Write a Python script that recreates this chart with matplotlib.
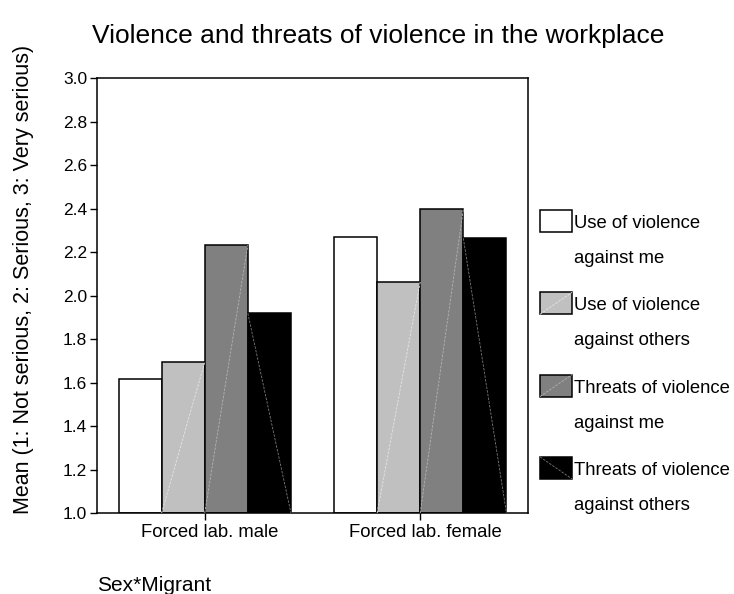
import numpy as np
import matplotlib
matplotlib.use("Agg")
import matplotlib.pyplot as plt
import matplotlib.transforms as mtransforms
from matplotlib.patches import Rectangle
from matplotlib.lines import Line2D

plt.rcParams['font.family'] = ['Liberation Sans', 'DejaVu Sans']

# Data
groups = ["Forced lab. male", "Forced lab. female"]
series = ["Use of violence\nagainst me", "Use of violence\nagainst others",
          "Threats of violence\nagainst me", "Threats of violence\nagainst others"]
violence_me = [1.615, 2.268]
violence_others = [1.694, 2.064]
threats_me = [2.232, 2.398]
threats_others = [1.918, 2.263]
values = [violence_me, violence_others, threats_me, threats_others]

colors = ["#ffffff", "#c0c0c0", "#808080", "#000000"]
diag_colors = [None, "#e6e6e6", "#b4b4b4", "#7a7a7a"]
# +1: rising diagonal, -1: falling diagonal
diag_dir = [0, 1, 1, -1]

W, H = 734, 594
fig = plt.figure(figsize=(W / 100, H / 100), dpi=100)
ax = fig.add_axes([97 / W, 1 - 513 / H, (528 - 97) / W, (513 - 78) / H])

x = np.arange(len(groups))
width = 0.2
ymin = 1.0
for i, vals in enumerate(values):
    xs = x + (i - 1.5) * width
    ax.bar(xs, np.array(vals) - ymin, width, bottom=ymin, color=colors[i],
           edgecolor="black", linewidth=1.1, zorder=2)
    if diag_dir[i] != 0:
        for xc, v in zip(xs, vals):
            xl, xr = xc - width / 2, xc + width / 2
            ys = [ymin, v] if diag_dir[i] > 0 else [v, ymin]
            ax.plot([xl, xr], ys, color=diag_colors[i], lw=0.6,
                    linestyle=(0, (3, 1.5)), zorder=3)

ax.set_xlim(-0.5, 1.5)
ax.set_ylim(1.0, 3.0)
ax.set_yticks(np.arange(1.0, 3.01, 0.2))
ax.set_yticklabels([f"{t:.1f}" for t in np.arange(1.0, 3.01, 0.2)])
ax.set_xticks(x)
ax.set_xticklabels(groups)
ax.tick_params(axis='y', labelsize=12.5, length=5, width=1, pad=2)
ax.tick_params(axis='x', labelsize=13.3, length=5, width=1, pad=3)
# category labels sit a little right of their ticks
shift = mtransforms.ScaledTranslation(5 / 100, 0, fig.dpi_scale_trans)
for lbl in ax.get_xticklabels():
    lbl.set_transform(lbl.get_transform() + shift)
for s in ax.spines.values():
    s.set_linewidth(1.1)

# Titles / labels
fig.text(378.5 / W, 1 - 42.7 / H, "Violence and threats of violence in the workplace",
         ha='center', va='baseline', fontsize=19)
fig.text(24 / W, 1 - 279.5 / H, "Mean (1: Not serious, 2: Serious, 3: Very serious)",
         rotation=90, ha='center', va='center', fontsize=15.5)
fig.text(96.7 / W, 1 - 590.7 / H, "Sex*Migrant", ha='left', va='baseline', fontsize=15)

# Legend drawn manually
for i, label in enumerate(series):
    top = 210 + 82.3 * i
    px0, px1 = 540, 572
    py0, py1 = top + 22, top
    rect = Rectangle((px0 / W, 1 - py0 / H), (px1 - px0) / W, 22 / H,
                     transform=fig.transFigure, facecolor=colors[i],
                     edgecolor="black", linewidth=1.1)
    fig.patches.append(rect)
    if diag_dir[i] != 0:
        ys = [1 - py0 / H, 1 - py1 / H] if diag_dir[i] > 0 else [1 - py1 / H, 1 - py0 / H]
        fig.lines.append(Line2D([px0 / W, px1 / W], ys, transform=fig.transFigure,
                                color=diag_colors[i], lw=0.6, linestyle=(0, (3, 1.5))))
    line1, line2 = label.split("\n")
    fig.text(574.3 / W, 1 - (top + 18) / H, line1, ha='left', va='baseline', fontsize=13.3)
    fig.text(574.3 / W, 1 - (top + 53) / H, line2, ha='left', va='baseline', fontsize=13.3)

fig.savefig("out.png", dpi=100)
